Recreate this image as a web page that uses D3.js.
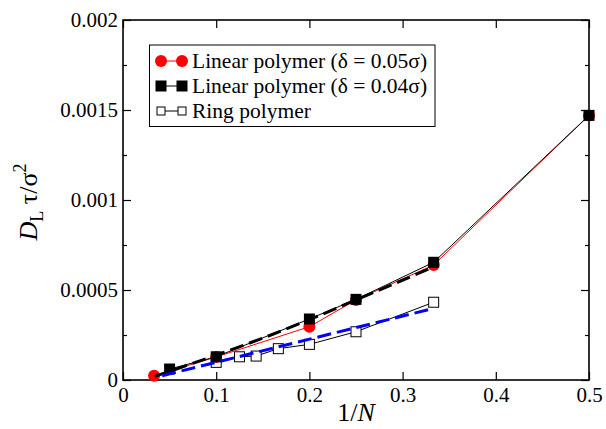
<!DOCTYPE html>
<html>
<head>
<meta charset="utf-8">
<script src="https://cdn.jsdelivr.net/npm/d3@7"></script>
<style>
  body { margin: 0; background: #fff; }
</style>
</head>
<body>
<svg id="chart" width="606" height="429"></svg>
<script>
// data
var lin05_x = [1/30, 0.1, 0.2, 0.25, 1/3, 0.5]
var lin05_y = [0.000024, 0.000128, 0.000296, 0.000445, 0.000639, 0.00147]
var lin04_x = [0.05, 0.1, 0.2, 0.25, 1/3, 0.5]
var lin04_y = [0.000061, 0.000129, 0.000339, 0.000448, 0.000654, 0.00147]
var ring_x = [0.1, 0.125, 1/7, 1/6, 0.2, 0.25, 1/3]
var ring_y = [0.000098, 0.000129, 0.000133, 0.000174, 0.000198, 0.000268, 0.000432]
var fitLin_x = [0.034, 0.05, 0.1, 0.15, 0.2, 0.25, 1/3]
var fitLin_y = [0.000020, 0.000048, 0.000138, 0.000232, 0.000335, 0.000445, 0.000628]
var fitRing_x = [0.042, 1/3]
var fitRing_y = [0.000024, 0.000398]
var xTicks = [0, 0.1, 0.2, 0.3, 0.4, 0.5]
var yTicks = [0, 0.0005, 0.001, 0.0015, 0.002]
var yMinor = [0.00025, 0.00075, 0.00125, 0.00175]
var legendLabels = ["Linear polymer (\u03b4 = 0.05\u03c3)", "Linear polymer (\u03b4 = 0.04\u03c3)", "Ring polymer"]

var serif = "\"Liberation Serif\", \"Times New Roman\", serif"
var svg = d3.select("#chart")
var x = d3.scaleLinear().domain([0, 0.5]).range([123, 589])
var y = d3.scaleLinear().domain([0, 0.002]).range([380, 20])

function pts(xs, ys) {
  return xs.map(function(v, i) { return [v, ys[i]] })
}
var line = d3.line().x(function(d) { return x(d[0]) }).y(function(d) { return y(d[1]) })

// ticks, mirrored on all four sides
var g = svg.append("g")
g.append("g").attr("transform", "translate(0,380)")
  .call(d3.axisBottom(x).tickValues(xTicks).tickSize(-8).tickPadding(7).tickFormat(d3.format("")))
g.append("g").attr("transform", "translate(0,20)")
  .call(d3.axisTop(x).tickValues(xTicks).tickSize(-8).tickFormat(""))
g.append("g").attr("transform", "translate(123,0)")
  .call(d3.axisLeft(y).tickValues(yTicks).tickSize(-8).tickPadding(5).tickFormat(function(d) { return d == 0 ? "0" : String(+d.toFixed(4)) }))
g.append("g").attr("transform", "translate(123,0)")
  .call(d3.axisLeft(y).tickValues(yMinor).tickSize(-4).tickFormat(""))
g.append("g").attr("transform", "translate(589,0)")
  .call(d3.axisRight(y).tickValues(yTicks).tickSize(-8).tickFormat(""))
g.append("g").attr("transform", "translate(589,0)")
  .call(d3.axisRight(y).tickValues(yMinor).tickSize(-4).tickFormat(""))
g.selectAll(".domain").remove()
g.selectAll(".tick line").attr("stroke", "#000").attr("stroke-width", 1.2)
g.selectAll(".tick text").attr("fill", "#000")
  .style("font-family", serif).style("font-size", "21px")

svg.append("rect").attr("x", 123).attr("y", 20).attr("width", 466).attr("height", 360)
  .attr("fill", "none").attr("stroke", "#000").attr("stroke-width", 1.6)

// ring polymer
svg.append("path").datum(pts(ring_x, ring_y)).attr("d", line)
  .attr("fill", "none").attr("stroke", "#000").attr("stroke-width", 1)
svg.selectAll(".ring").data(pts(ring_x, ring_y)).enter().append("rect")
  .attr("x", function(d) { return x(d[0]) - 5 }).attr("y", function(d) { return y(d[1]) - 5 })
  .attr("width", 10).attr("height", 10).attr("fill", "#fff").attr("stroke", "#000").attr("stroke-width", 1)

// linear 0.05
svg.append("path").datum(pts(lin05_x, lin05_y)).attr("d", line)
  .attr("fill", "none").attr("stroke", "#ff0000").attr("stroke-width", 1)
svg.selectAll(".lin05").data(pts(lin05_x, lin05_y)).enter().append("circle")
  .attr("cx", function(d) { return x(d[0]) }).attr("cy", function(d) { return y(d[1]) })
  .attr("r", 6).attr("fill", "#ff0000")

// linear 0.04
svg.append("path").datum(pts(lin04_x, lin04_y)).attr("d", line)
  .attr("fill", "none").attr("stroke", "#000").attr("stroke-width", 1)
svg.selectAll(".lin04").data(pts(lin04_x, lin04_y)).enter().append("rect")
  .attr("x", function(d) { return x(d[0]) - 5.5 }).attr("y", function(d) { return y(d[1]) - 5.5 })
  .attr("width", 11).attr("height", 11).attr("fill", "#000")

// fits
svg.append("path").datum(pts(fitLin_x, fitLin_y)).attr("d", line)
  .attr("fill", "none").attr("stroke", "#000").attr("stroke-width", 3).attr("stroke-dasharray", "14,6")
svg.append("path").datum(pts(fitRing_x, fitRing_y)).attr("d", line)
  .attr("fill", "none").attr("stroke", "#0000ff").attr("stroke-width", 3).attr("stroke-dasharray", "14,6")

// legend
var lg = svg.append("g")
lg.append("rect").attr("x", 149.5).attr("y", 45).attr("width", 285.5).attr("height", 81.5)
  .attr("fill", "#fff").attr("stroke", "#000").attr("stroke-width", 1)
var rows = [61, 86, 111]
rows.forEach(function(ry, i) {
  lg.append("line").attr("x1", 161).attr("x2", 182).attr("y1", ry).attr("y2", ry)
    .attr("stroke", i == 0 ? "#ff0000" : "#000").attr("stroke-width", 1)
  ;[161, 182].forEach(function(cx) {
    if (i == 0) {
      lg.append("circle").attr("cx", cx).attr("cy", ry).attr("r", 6).attr("fill", "#ff0000")
    } else if (i == 1) {
      lg.append("rect").attr("x", cx - 5.5).attr("y", ry - 5.5).attr("width", 11).attr("height", 11).attr("fill", "#000")
    } else {
      lg.append("rect").attr("x", cx - 4).attr("y", ry - 4).attr("width", 8).attr("height", 8)
        .attr("fill", "#fff").attr("stroke", "#000").attr("stroke-width", 1)
    }
  })
  lg.append("text").attr("x", 192).attr("y", ry + 6.5).style("font-size", "21.5px").style("font-family", serif).text(legendLabels[i])
})

// axis titles
var xt = svg.append("text").attr("x", 356).attr("y", 421).attr("text-anchor", "middle")
  .style("font-size", "26px").style("font-family", serif)
xt.append("tspan").text("1/")
xt.append("tspan").style("font-style", "italic").text("N")

var yt = svg.append("text").attr("transform", "translate(37,202) rotate(-90)").attr("text-anchor", "middle")
  .style("font-size", "26px").style("font-family", serif)
yt.append("tspan").style("font-style", "italic").text("D")
yt.append("tspan").style("font-size", "18px").attr("dy", 6).text("L")
yt.append("tspan").attr("dy", -6).text(" \u03c4/\u03c3")
yt.append("tspan").style("font-size", "18px").attr("dy", -11).text("2")
</script>
</body>
</html>
